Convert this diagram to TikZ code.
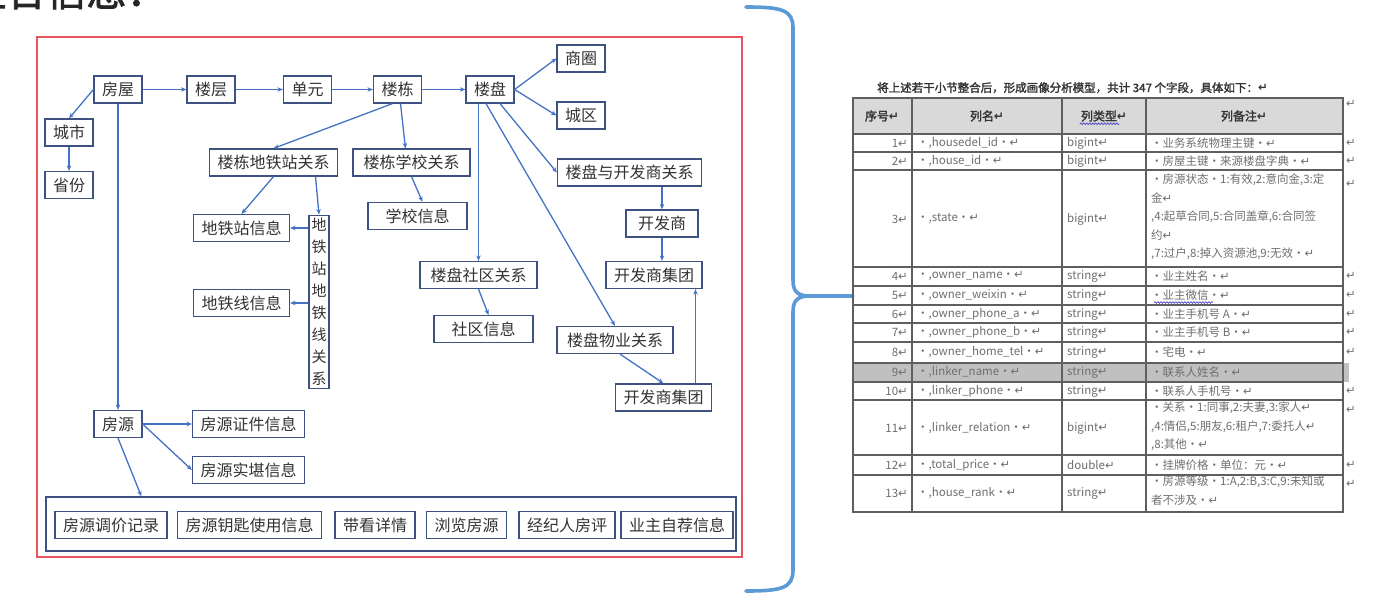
\documentclass[tikz,border=0pt]{standalone}
\usepackage{fontspec}
\setmainfont{Noto Sans CJK SC}[AutoFakeBold=2]
\newfontfamily\symfont{DejaVu Sans}
\usetikzlibrary{positioning,arrows.meta,decorations.pathmorphing}
\definecolor{linkblue}{RGB}{68,114,196}
\definecolor{boxedge}{RGB}{62,82,130}
\definecolor{framered}{RGB}{232,84,94}
\definecolor{bracecolor}{RGB}{91,155,213}
\definecolor{headgray}{RGB}{217,217,217}
\definecolor{rowgray}{RGB}{192,192,192}
\definecolor{gridgray}{RGB}{95,95,95}
\definecolor{cellgray}{RGB}{110,110,110}
\definecolor{spellblue}{RGB}{80,70,200}
\newcommand{\ret}{{\symfont\char"21B5}}

\begin{document}
\begin{tikzpicture}[x=1pt,y=-1pt,
  box/.style={draw=boxedge, line width=1.2pt, fill=white, minimum height=27pt,
    inner xsep=8pt, font=\fontsize{16}{19}\selectfont, text=black!80},
  link/.style={draw=linkblue, line width=1.3pt, -{Stealth[length=5.5pt,width=4.5pt]}},
  cell/.style={font=\fontsize{11.5}{18.5}\selectfont, text=cellgray, inner sep=1pt},
  headcell/.style={font=\fontsize{12}{14}\selectfont\bfseries, text=black!80, inner sep=1pt}]
  \useasboundingbox (0,0) rectangle (1400,610);

  % Heading, cut by the top edge
  \begin{scope}
    \clip (0,0) rectangle (1400,610);
    \node[anchor=base east, font=\fontsize{40}{40}\selectfont\bfseries, text=black!85]
      (title) at (170,6) {房源整合信息：};
  \end{scope}

  % Red frame round the diagram
  \draw[framered, line width=1.3pt] (37,37) rectangle (742,557);

  % Main chain
  \node[box] (fw) at (118,89.5) {房屋};
  \node[box] (lc) at (211,89.5) {楼层};
  \node[box] (dy) at (307.5,89.5) {单元};
  \node[box] (ld) at (397.5,89.5) {楼栋};
  \node[box] (lp) at (490,89.5) {楼盘};
  \node[box] (cs) at (69,132.5) {城市};
  \node[box] (sf) at (69,185) {省份};

  % Building relations
  \node[box] (ldgx) at (273.5,162.5) {楼栋地铁站关系};
  \node[box, minimum width=117pt] (ldxx) at (411.5,162.5) {楼栋学校关系};
  \node[box, minimum width=99pt] (xxxx) at (417.5,216) {学校信息};
  \node[box] (dtz) at (241.5,228) {地铁站信息};
  \node[box] (dtx) at (241.5,303) {地铁线信息};
  \node[box, inner xsep=2.5pt, inner ysep=3pt, align=center,
    font=\fontsize{15}{22}\selectfont] (gxv) at (319,302)
    {地\\铁\\站\\地\\铁\\线\\关\\系};

  % Estate relations
  \node[box] (sq) at (581,58.5) {商圈};
  \node[box] (cq) at (581,115.5) {城区};
  \node[box] (lpkf) at (629.5,172.5) {楼盘与开发商关系};
  \node[box, minimum width=72pt] (kfs) at (662,223.5) {开发商};
  \node[box] (kfjt) at (654,275) {开发商集团};
  \node[box, minimum width=117pt] (lpsq) at (478.5,275) {楼盘社区关系};
  \node[box, minimum width=99pt] (sqxx) at (483.5,329) {社区信息};
  \node[box, minimum width=116pt] (lpwy) at (615,340) {楼盘物业关系};
  \node[box] (kfjt2) at (663.5,397.5) {开发商集团};

  % Listing
  \node[box] (fy) at (118,424) {房源};
  \node[box] (zj) at (248.5,424) {房源证件信息};
  \node[box] (sk) at (248.5,470) {房源实堪信息};
  \node[box, minimum width=690pt, minimum height=54pt] (rec) at (391,524) {};
  \node[box] (tj) at (111,525) {房源调价记录};
  \node[box] (ys) at (249.5,525) {房源钥匙使用信息};
  \node[box] (dk) at (375,525) {带看详情};
  \node[box] (ll) at (466.5,525) {浏览房源};
  \node[box] (jj) at (567,525) {经纪人房评};
  \node[box] (zt) at (677,525) {业主自荐信息};

  % Connectors
  \draw[link] (fw) -- (lc);
  \draw[link] (lc) -- (dy);
  \draw[link] (dy) -- (ld);
  \draw[link] (ld) -- (lp);
  \draw[link] (fw.west) -- (cs.north);
  \draw[link] (cs) -- (sf);
  \draw[link] ([xshift=-5pt]ld.south) -- (ldgx.north);
  \draw[link] ([xshift=3pt]ld.south) -- ([xshift=-6pt]ldxx.north);
  \draw[link] (ldgx.south) -- (dtz.north);
  \draw[link] ([xshift=42pt]ldgx.south) -- (gxv.north);
  \draw[link] (gxv.west |- dtz.east) -- (dtz.east);
  \draw[link] (gxv.west |- dtx.east) -- (dtx.east);
  \draw[link] (ldxx.south) -- ([xshift=5pt]xxxx.north);
  \draw[link] (lp.east) -- (sq.west);
  \draw[link] (lp.east) -- (cq.west);
  \draw[link] ([xshift=10pt]lp.south) -- (lpkf.west);
  \draw[link] (lp.south -| lpsq.north) -- (lpsq.north);
  \draw[link] ([xshift=-4pt]lp.south) -- (lpwy.north);
  \draw[link] (lpkf.south -| kfs.north) -- (kfs.north);
  \draw[link] (kfs.south) -- (kfs.south |- kfjt.north);
  \draw[link] (lpsq.south) -- ([xshift=5pt]sqxx.north);
  \draw[link] ([xshift=5pt]lpwy.south) -- (kfjt2.north);
  \draw[link] ([xshift=32pt]kfjt2.north) -- ([xshift=32pt]kfjt2.north |- kfjt.south);
  \draw[link] (fw.south) -- (fy.north);
  \draw[link] (fy.east) -- (zj.west);
  \draw[link] (fy.east) -- (sk.west);
  \draw[link] (fy.south) -- ([xshift=96pt]rec.north west);

  % Brace pointing at the table
  \coordinate (tab) at (853,296);
  \draw[bracecolor, line width=3.6pt, line cap=round]
    (746,7) .. controls (782,7) and (793,10) .. (793,28) -- (793,280)
    .. controls (793,291) and (797,296) .. (810,296) -- (tab);
  \draw[bracecolor, line width=3.6pt, line cap=round]
    (746,591) .. controls (782,591) and (793,588) .. (793,570) -- (793,312)
    .. controls (793,301) and (797,296) .. (810,296);

  % Table caption
  \node[anchor=base west, font=\fontsize{11.5}{13}\selectfont\bfseries, text=black!80, inner sep=0pt]
    (cap) at (877,92) {将上述若干小节整合后，形成画像分析模型，共计 347 个字段，具体如下：\ret};

  % Table grid
  \fill[headgray] (853,98) rectangle (1343,134);
  \fill[rowgray] (853,363) rectangle (1349,382);
  \draw[gridgray, line width=1.2pt] (853,98) rectangle (1343,512);
  \foreach \y in {134,152,170,267,286,305,323,342,363,382,400,455,475}
    \draw[gridgray, line width=1.2pt] (853,\y) -- (1343,\y);
  \foreach \x in {912,1062,1146}
    \draw[gridgray, line width=1.2pt] (\x,98) -- (\x,512);

  % Header row
  \node[headcell] (hno) at (882,116) {序号\ret};
  \node[headcell] (hcol) at (987,116) {列名\ret};
  \node[headcell] (hkind) at (1104,116) {列类型\ret};
  \node[headcell] (hnote) at (1244,116) {列备注\ret};
  \draw[spellblue, line width=0.7pt, decorate, decoration={snake, amplitude=0.8pt, segment length=3pt}]
    ([yshift=-1pt]hkind.south west) -- ([xshift=-9pt,yshift=-1pt]hkind.south east);

  % One-line rows
  \foreach \n/\y/\col/\kind/\note in {
      1/143/housedel\_id/bigint/{业务系统物理主键},
      2/161/house\_id/bigint/{房屋主键·来源楼盘字典},
      4/276/owner\_name/string/{业主姓名},
      5/295/owner\_weixin/string/{业主微信},
      6/314/owner\_phone\_a/string/{业主手机号 A},
      7/332/owner\_phone\_b/string/{业主手机号 B},
      8/352/owner\_home\_tel/string/{宅电},
      9/372/linker\_name/string/{联系人姓名},
      10/391/linker\_phone/string/{联系人手机号},
      12/465/total\_price/double/{挂牌价格·单位：元}} {
    \node[cell, anchor=east] (no\n) at (909,\y) {\n\ret};
    \node[cell, anchor=west] (col\n) at (916,\y) {·,\col·\ret};
    \node[cell, anchor=west] (kind\n) at (1066,\y) {\kind\ret};
    \node[cell, anchor=west] (note\n) at (1150,\y) {·\note·\ret};
  }
  \draw[spellblue, line width=0.7pt, decorate, decoration={snake, amplitude=0.8pt, segment length=3pt}]
    ([xshift=4pt,yshift=-1pt]note5.south west) -- ([xshift=-18pt,yshift=-1pt]note5.south east);

  % Rows with several lines
  \node[cell, anchor=east] (no3) at (909,219) {3\ret};
  \node[cell, anchor=west] (col3) at (916,219) {·,state·\ret};
  \node[cell, anchor=west] (kind3) at (1066,219) {bigint\ret};
  \node[cell, anchor=north west, align=left] (note3) at (1150,173)
    {·房源状态·1:有效,2:意向金,3:定\\金\ret\\,4:起草合同,5:合同盖章,6:合同签\\约\ret\\,7:过户,8:掉入资源池,9:无效·\ret};
  \node[cell, anchor=east] (no11) at (909,428) {11\ret};
  \node[cell, anchor=west] (col11) at (916,428) {·,linker\_relation·\ret};
  \node[cell, anchor=west] (kind11) at (1066,428) {bigint\ret};
  \node[cell, anchor=north west, align=left] (note11) at (1150,401)
    {·关系·1:同事,2:夫妻,3:家人\ret\\,4:情侣,5:朋友,6:租户,7:委托人\ret\\,8:其他·\ret};
  \node[cell, anchor=east] (no13) at (909,493) {13\ret};
  \node[cell, anchor=west] (col13) at (916,493) {·,house\_rank·\ret};
  \node[cell, anchor=west] (kind13) at (1066,493) {string\ret};
  \node[cell, anchor=north west, align=left] (note13) at (1150,475)
    {·房源等级·1:A,2:B,3:C,9:未知或\\者不涉及·\ret};

  % Paragraph marks right of the table
  \foreach \y in {104,143,161,184,276,295,314,332,352,391,410,465,484}
    \node[cell, anchor=west] (eol\y) at (1345,\y) {\ret};
\end{tikzpicture}
\end{document}
